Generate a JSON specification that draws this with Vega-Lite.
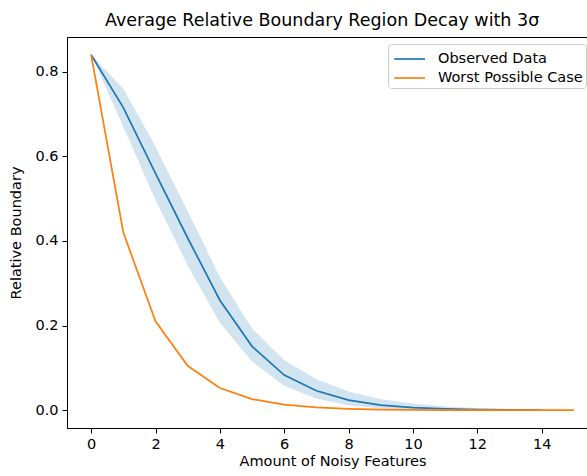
{
  "$schema": "https://vega.github.io/schema/vega-lite/v6.json",
  "autosize": "none",
  "width": 531,
  "height": 391,
  "padding": {"left": 67, "top": 37, "right": 0, "bottom": 48},
  "background": "white",
  "title": {"text": "Average Relative Boundary Region Decay with 3σ", "font": "DejaVu Sans", "fontSize": 17.5, "fontWeight": "normal", "color": "black", "anchor": "start", "offset": 8, "dx": 96},
  "config": {
    "font": "DejaVu Sans",
    "view": {"stroke": "black", "strokeWidth": 1},
    "axis": {"grid": false, "domainColor": "black", "tickColor": "black", "tickSize": 5, "labelFontSize": 14.5, "labelColor": "black", "titleFontSize": 14.5, "titleFontWeight": "normal", "titleColor": "black", "labelPadding": 4}
  },
  "data": {"values": [
    {"x": 0, "series": "Observed Data", "y": 0.84, "lo": 0.84, "hi": 0.84},
    {"x": 1, "series": "Observed Data", "y": 0.715, "lo": 0.67, "hi": 0.76},
    {"x": 2, "series": "Observed Data", "y": 0.56, "lo": 0.497, "hi": 0.623},
    {"x": 3, "series": "Observed Data", "y": 0.407, "lo": 0.342, "hi": 0.47},
    {"x": 4, "series": "Observed Data", "y": 0.26, "lo": 0.207, "hi": 0.315},
    {"x": 5, "series": "Observed Data", "y": 0.151, "lo": 0.115, "hi": 0.193},
    {"x": 6, "series": "Observed Data", "y": 0.083, "lo": 0.058, "hi": 0.118},
    {"x": 7, "series": "Observed Data", "y": 0.046, "lo": 0.028, "hi": 0.073},
    {"x": 8, "series": "Observed Data", "y": 0.024, "lo": 0.011, "hi": 0.044},
    {"x": 9, "series": "Observed Data", "y": 0.012, "lo": 0.004, "hi": 0.026},
    {"x": 10, "series": "Observed Data", "y": 0.006, "lo": 0.001, "hi": 0.016},
    {"x": 11, "series": "Observed Data", "y": 0.003, "lo": 0.0, "hi": 0.009},
    {"x": 12, "series": "Observed Data", "y": 0.0015, "lo": 0.0, "hi": 0.005},
    {"x": 13, "series": "Observed Data", "y": 0.001, "lo": 0.0, "hi": 0.003},
    {"x": 14, "series": "Observed Data", "y": 0.0005, "lo": 0.0, "hi": 0.002},
    {"x": 0, "series": "Worst Possible Case", "y": 0.84},
    {"x": 1, "series": "Worst Possible Case", "y": 0.42},
    {"x": 2, "series": "Worst Possible Case", "y": 0.21},
    {"x": 3, "series": "Worst Possible Case", "y": 0.105},
    {"x": 4, "series": "Worst Possible Case", "y": 0.0525},
    {"x": 5, "series": "Worst Possible Case", "y": 0.02625},
    {"x": 6, "series": "Worst Possible Case", "y": 0.013125},
    {"x": 7, "series": "Worst Possible Case", "y": 0.0065625},
    {"x": 8, "series": "Worst Possible Case", "y": 0.0032813},
    {"x": 9, "series": "Worst Possible Case", "y": 0.0016406},
    {"x": 10, "series": "Worst Possible Case", "y": 0.0008203},
    {"x": 11, "series": "Worst Possible Case", "y": 0.0004102},
    {"x": 12, "series": "Worst Possible Case", "y": 0.0002051},
    {"x": 13, "series": "Worst Possible Case", "y": 0.0001025},
    {"x": 14, "series": "Worst Possible Case", "y": 0.0000513},
    {"x": 15, "series": "Worst Possible Case", "y": 0.0000256}
  ]},
  "layer": [
    {
      "transform": [{"filter": "datum.series === 'Observed Data'"}],
      "mark": {"type": "area", "color": "#1f77b4", "opacity": 0.2},
      "encoding": {
        "x": {"field": "x", "type": "quantitative"},
        "y": {"field": "lo", "type": "quantitative"},
        "y2": {"field": "hi"}
      }
    },
    {
      "mark": {"type": "line", "strokeWidth": 1.7},
      "encoding": {
        "x": {"field": "x", "type": "quantitative", "scale": {"domain": [-0.75, 15.75], "nice": false, "zero": false}, "axis": {"values": [0, 2, 4, 6, 8, 10, 12, 14], "title": "Amount of Noisy Features", "titlePadding": 4}},
        "y": {"field": "y", "type": "quantitative", "scale": {"domain": [-0.042, 0.882], "nice": false, "zero": false}, "axis": {"values": [0, 0.2, 0.4, 0.6, 0.8], "format": ".1f", "title": "Relative Boundary", "titlePadding": 11}},
        "color": {"field": "series", "type": "nominal", "scale": {"domain": ["Observed Data", "Worst Possible Case"], "range": ["#1f77b4", "#ff7f0e"]},
          "legend": {"title": null, "orient": "none", "legendX": 321, "legendY": 7, "symbolType": "M-0.8,0H2", "symbolSize": 484, "symbolStrokeWidth": 1.7, "symbolFillColor": "transparent", "labelFontSize": 14.5, "labelColor": "black", "rowPadding": 0, "strokeColor": "#cccccc", "fillColor": "white", "padding": 3, "cornerRadius": 3, "labelOffset": 23}}
      }
    }
  ]
}
